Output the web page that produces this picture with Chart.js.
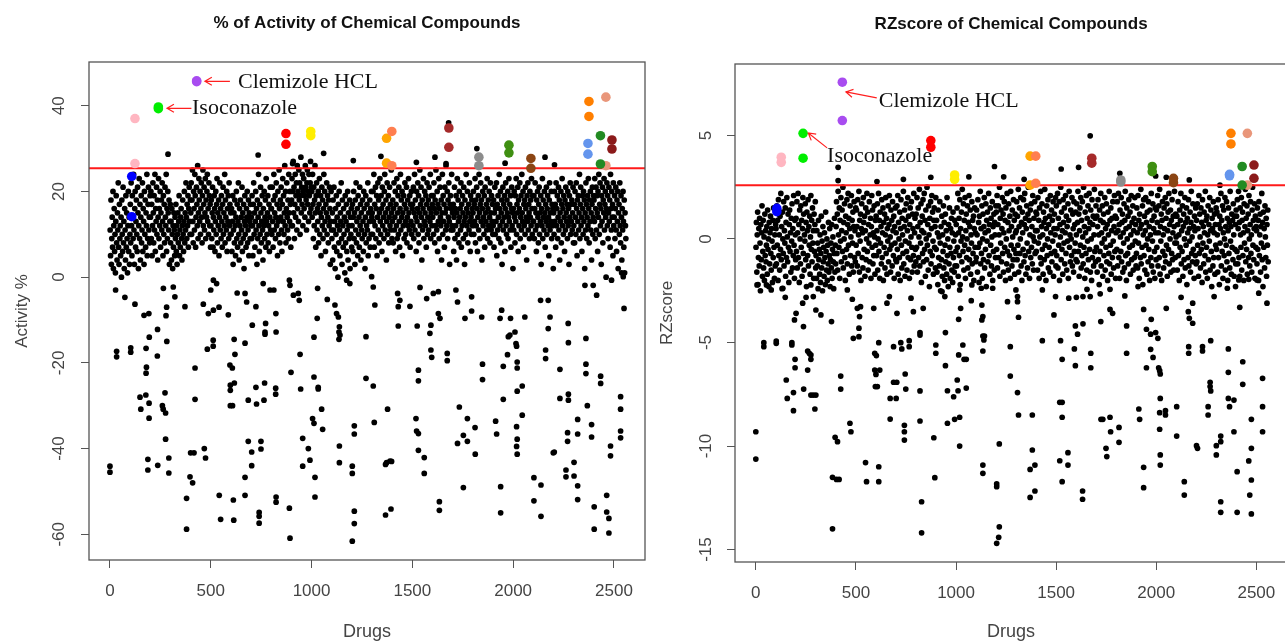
<!DOCTYPE html>
<html>
<head>
<meta charset="utf-8">
<title>% of Activity and RZscore of Chemical Compounds</title>
<script src="https://cdn.jsdelivr.net/npm/chart.js@4.4.1/dist/chart.umd.min.js"></script>
<style>
  html, body { margin: 0; padding: 0; background: #fff; overflow: hidden; }
  body { width: 1285px; height: 643px; position: relative; }
  .panel { position: absolute; top: 0; }
  #left { left: 0; }
  #right { left: 650px; }
</style>
</head>
<body>
<div class="panel" id="left"><canvas id="activityChart" width="650" height="643"></canvas></div>
<div class="panel" id="right"><canvas id="rzChart" width="642" height="643"></canvas></div>
<script>
const SANS = "'Liberation Sans', Arial, sans-serif";
const SERIF = "'Liberation Serif', 'Times New Roman', serif";

const drugTicks = [0, 500, 1000, 1500, 2000, 2500];
const activityTicks = [-60, -40, -20, 0, 20, 40];
const rzTicks = [-15, -10, -5, 0, 5];

const activityCutoff = 25.4;
const rzCutoff = 2.6;

// dense band: one value for every second drug (drug = index * 2 + 1)
const BAND_STEP = 2;
const activityBand = [
  11,5,18,3,9,14,7,20,2,12,16,6,10,1,13,19,8,4,15,11,22,7,3,17,9,12,5,14,0,18,10,6,21,8,13,2,16,11,4,19,7,15,9,1,12,20,6,14,3,10,
  17,8,22,12,5,19,14,9,24,11,3,16,20,7,13,18,10,6,21,15,2,12,23,9,17,4,14,19,8,11,22,6,16,13,3,20,10,18,7,15,12,24,5,9,17,21,11,14,8,19,
  14,20,9,17,5,12,22,15,8,19,11,24,6,16,13,21,10,18,4,14,23,9,16,12,20,7,15,18,11,22,13,5,19,10,17,8,21,14,12,24,6,16,9,20,15,11,18,3,13,17,
  8,13,4,16,10,2,12,7,15,11,5,14,9,17,6,12,3,10,15,8,13,19,5,11,7,14,16,9,4,12,18,10,6,13,20,8,15,11,22,14,9,17,12,19,7,16,21,13,10,18,
  15,22,10,18,25,13,8,20,16,11,24,19,7,14,21,17,12,26,9,15,23,18,13,20,10,16,22,14,8,19,25,12,17,21,11,15,23,9,18,14,20,24,13,16,10,22,19,12,17,7,
  12,18,9,15,21,7,14,11,19,16,6,13,20,10,17,23,8,15,12,18,5,14,22,11,16,9,19,13,7,17,21,10,15,12,24,8,18,14,11,20,6,16,13,19,9,22,12,17,10,15,
  10,16,6,13,19,3,11,15,8,18,12,5,14,20,9,17,7,13,22,10,4,16,12,18,8,14,11,21,6,15,9,17,2,13,19,10,12,7,16,14,20,8,11,18,5,15,13,9,17,12,
  14,9,19,12,5,17,22,10,15,7,13,20,11,16,3,18,9,14,24,12,6,17,10,21,15,8,13,19,11,4,16,12,20,9,14,18,7,23,13,10,15,19,8,12,17,6,14,21,11,16,
  16,10,21,13,7,18,24,11,15,19,9,14,22,12,17,5,20,13,10,25,16,8,18,14,21,11,6,17,23,13,19,10,15,26,12,20,8,16,22,14,11,18,9,24,15,13,20,17,7,12,
  18,23,12,20,27,15,21,9,17,24,14,19,22,11,26,16,20,13,25,18,22,10,19,28,15,21,17,24,12,20,23,16,19,14,26,21,18,11,22,25,17,20,13,24,19,15,22,27,16,21,
  20,14,24,17,9,21,12,18,26,15,7,19,22,11,16,13,20,8,17,23,10,15,19,5,14,21,12,18,9,16,24,11,20,13,6,17,15,22,10,19,14,8,18,12,21,16,3,13,20,11,
  9,15,4,18,11,21,7,13,2,16,10,19,6,14,12,0,17,8,20,11,5,15,13,22,9,3,18,12,7,16,10,14,1,19,8,13,17,6,11,20,4,15,12,9,18,2,14,10,16,7,
  12,17,6,14,20,9,15,3,18,11,22,8,13,16,5,19,10,14,7,21,12,17,4,15,11,9,18,13,6,20,16,10,2,14,19,8,12,17,11,22,5,15,9,13,18,7,16,10,20,14,
  15,10,20,13,24,7,17,12,21,9,16,19,5,14,22,11,18,8,15,23,13,10,19,16,6,21,12,17,14,9,20,24,11,15,18,4,13,22,10,16,19,8,14,21,12,17,11,25,15,9,
  13,18,8,16,22,11,14,20,6,17,12,23,9,15,19,10,21,13,7,16,24,11,18,14,20,5,15,12,19,9,17,22,13,10,16,21,8,14,18,12,23,15,11,19,7,17,13,20,10,16,
  17,12,21,9,15,24,11,18,14,6,20,13,16,22,10,19,8,15,25,12,17,21,14,4,18,11,16,23,9,13,20,15,12,19,7,17,22,10,14,18,11,21,16,13,24,9,15,19,12,17,
  14,19,10,22,16,8,18,12,25,15,11,20,6,17,13,23,9,16,21,14,12,18,4,15,24,10,19,13,17,7,21,15,11,26,16,12,20,9,18,14,22,13,3,17,19,11,16,24,12,15,
  11,17,6,14,21,9,16,12,19,4,15,23,10,18,13,8,20,14,16,11,22,7,17,12,19,15,9,21,13,3,18,14,10,24,16,12,20,8,15,17,11,22,13,6,19,14,10,18,16,12,
  15,20,10,17,13,23,8,18,12,21,16,6,14,19,11,24,15,9,17,22,13,18,4,16,20,12,14,10,19,7,21,15,13,17,11,23,9,16,18,12,20,14,8,22,15,11,19,13,17,10,
  12,18,7,15,21,10,16,13,22,5,17,11,19,14,9,24,16,12,20,8,15,18,3,13,21,11,17,14,19,6,16,22,12,10,18,15,20,9,14,23,13,17,11,19,7,16,21,12,15,2,
  16,11,20,14,8,19,13,23,10,17,15,21,6,18,12,16,22,9,14,19,11,24,15,13,20,7,17,12,18,10,21,16,14,4,19,13,22,11,17,15,9,20,14,18,12,23,16,10,19,13,
  13,19,9,16,22,11,15,6,18,12,20,14,8,17,21,10,15,13,19,3,16,12,23,9,18,14,11,20,15,7,17,13,21,10,16,19,12,14,5,18,22,11,15,13,20,9,17,12,16,2,
  15,10,20,13,17,7,22,12,16,19,9,14,21,11,18,4,15,13,20,8,17,23,12,16,10,19,14,6,18,11,21,15,13,17,9,20,12,16,3,19,14,22,10,17,13,18,11,15,21,8,
  12,17,8,20,14,10,22,16,5,18,13,19,11,15,24,9,17,21,12,14,6,19,16,10,20,13,18,2,15,11,22,17,9,14,19,12,23,16,8,18,13,20,11,15,4,17,21,10,14,19,
  18,13,23,9,16,21,11,19,15,6,20,14,24,10,17,22,12,16,3,19,13,21,8,18,15,23,11,17,20,14,0,16,22,12,19,9,15,21,13,18,7,24,16,11,20,14,17,5,22,12,
  14,19,9,16,21,11,6,18,13,20,2,15,17,10,22,12,8,19,14,4,16,11,20,13,7,18,1,15,12,9
];
const rzBand = [
  -0.4,0.8,-1.6,0.2,1.3,-2.2,-0.9,0.5,-1.3,1.0,-0.2,-2.5,0.7,-1.0,0.3,1.6,-1.8,-0.6,0.9,-1.4,0.1,-2.0,1.2,-0.8,0.4,-1.1,-0.3,0.6,-1.7,1.4,-0.5,0.0,-2.3,0.8,-1.2,0.3,1.1,-0.7,-1.5,0.5,-0.1,-2.1,0.9,-0.9,1.5,-0.4,-1.9,0.2,-1.3,0.7,
  0.5,-1.2,1.6,-0.3,0.9,-2.0,1.9,-0.8,0.2,-1.5,1.1,-0.5,2.2,-1.0,0.6,-2.4,1.3,0.0,-0.7,1.8,-1.3,0.4,-0.2,1.5,-1.8,0.8,-0.9,2.0,0.1,-1.1,1.2,-0.4,-2.1,0.7,1.4,-0.6,0.3,-1.6,1.0,-0.1,1.7,-1.4,0.5,-0.8,2.1,-0.3,-1.9,0.9,0.2,-1.0,
  1.0,-0.6,1.8,-1.4,0.3,2.2,-0.9,0.7,-2.1,1.4,0.0,-1.2,1.6,-0.4,0.9,-1.8,0.5,2.0,-0.7,1.2,-1.5,0.2,-0.1,1.7,-1.0,0.8,-2.3,1.3,0.4,-0.8,1.9,-1.3,0.6,-0.3,1.1,-1.7,0.1,2.1,-0.5,0.9,-1.1,1.5,-0.2,0.4,-1.9,1.2,-0.6,0.7,1.8,-1.4,
  -0.8,-1.9,0.4,-1.3,-0.2,-2.4,0.9,-1.0,-0.5,-1.7,0.2,-2.1,-0.7,1.1,-1.4,-0.1,-2.5,0.6,-1.1,-0.4,-1.8,0.3,-0.9,-2.2,1.3,-0.6,-1.5,0.0,-2.0,-0.3,-1.2,0.8,-1.6,-0.8,0.5,-2.3,-1.0,-0.2,-1.4,0.7,-1.9,-0.5,0.1,-1.1,-2.4,-0.7,1.0,-1.6,-0.3,-1.2,
  0.6,1.8,-0.7,1.2,-1.5,2.3,0.2,-0.4,1.5,-1.9,0.9,-0.1,2.0,-1.1,0.4,1.4,-0.6,2.5,-1.4,0.8,0.0,1.7,-0.9,-2.0,1.1,0.3,-0.5,1.9,-1.2,0.7,2.2,-0.3,1.0,-1.7,0.5,1.6,-0.8,0.1,2.1,-1.3,0.9,-0.2,1.3,-1.6,0.6,1.8,-0.9,0.4,-1.1,1.5,
  -0.3,1.4,0.6,-1.3,1.9,-0.7,0.2,2.3,-1.6,0.9,-0.1,1.2,-2.0,0.5,1.7,-0.9,0.3,-1.4,2.0,0.8,-0.5,1.1,-1.8,0.4,1.5,-1.0,0.0,2.2,-0.6,1.3,-1.5,0.7,-0.2,1.8,-1.1,0.2,1.0,-1.9,0.6,2.1,-0.4,1.4,-1.2,0.3,-0.8,1.6,0.1,-1.7,0.9,-0.3,
  1.1,-0.8,0.4,1.7,-1.5,0.0,2.2,-0.6,0.9,-1.9,1.3,-0.2,0.6,-1.2,1.9,-0.9,0.3,1.5,-2.0,0.8,-0.4,1.2,-1.4,0.2,2.0,-0.7,1.0,-1.7,0.5,-0.1,1.6,-1.1,0.7,2.1,-0.5,0.1,-1.6,1.4,-0.3,0.9,-1.3,1.8,0.4,-0.8,1.1,-1.9,0.6,-0.2,1.5,-1.0,
  0.3,-1.1,1.6,-0.5,2.1,-1.7,0.8,0.0,-0.9,1.3,-2.0,0.5,1.9,-0.3,-1.4,1.0,0.2,-0.7,2.3,-1.2,0.6,1.4,-1.8,-0.1,0.9,1.7,-0.6,-1.5,0.4,2.0,-0.9,1.1,-0.2,-1.9,0.7,1.5,-1.0,0.1,1.8,-0.4,-1.6,1.2,0.5,-0.8,2.2,-1.3,0.3,1.0,-0.5,-1.1,
  1.2,-0.4,2.0,-1.6,0.6,1.5,-0.9,0.1,2.4,-1.3,0.8,-0.2,1.7,-2.1,0.4,1.1,-0.7,1.9,-1.1,0.3,2.2,-0.5,0.9,-1.8,1.4,0.0,-1.0,2.5,-0.3,0.7,-1.5,1.6,0.2,-2.3,1.0,-0.6,1.8,-1.2,0.5,2.1,-0.8,1.3,-0.1,-1.7,0.9,1.5,-0.4,0.6,-1.4,2.0,
  -0.5,0.9,-1.6,0.3,-2.2,1.4,-0.9,0.1,-1.3,1.8,-0.2,-2.5,0.6,-1.0,1.1,-1.8,0.2,-0.6,1.6,-1.4,0.8,-2.0,-0.3,1.2,-1.1,0.4,-1.7,2.0,-0.8,0.0,-2.3,0.7,-1.2,1.5,-0.4,-1.9,0.5,-0.7,1.0,-1.5,0.3,-2.1,1.3,-0.9,-0.1,-1.6,0.9,-1.3,0.2,-0.6,
  0.7,-1.3,1.5,-0.4,2.2,-1.8,0.3,1.0,-0.8,1.9,-2.2,0.5,-0.1,1.3,-1.1,2.4,0.1,-0.6,1.7,-1.5,0.9,-0.3,2.0,-1.9,0.4,1.2,-0.9,0.0,1.6,-1.4,0.8,-0.5,2.1,-1.0,0.6,1.4,-1.7,0.2,-0.2,1.8,-1.2,0.9,-0.7,1.1,-2.0,0.5,1.5,-0.4,0.3,-1.1,
  -0.9,1.4,0.2,-1.6,1.9,-0.4,0.8,-2.1,1.1,-0.2,2.3,-1.2,0.5,-0.7,1.6,-1.9,0.0,1.2,-1.0,0.6,2.0,-1.4,0.3,-0.5,1.7,-2.3,0.9,-0.1,1.3,-1.1,0.4,2.2,-0.8,0.7,-1.7,1.5,-0.3,1.0,-1.3,0.1,1.8,-2.0,0.6,-0.6,1.2,-1.5,0.8,0.2,-0.9,1.6,
  1.3,-0.5,2.1,-1.4,0.7,1.6,-0.9,0.2,2.5,-1.8,1.0,-0.2,1.4,-1.1,0.5,2.0,-0.7,1.2,-1.6,0.3,1.8,-0.4,0.9,-2.0,1.5,0.0,-1.2,2.2,-0.6,0.8,-1.5,1.7,0.4,-0.8,1.1,-1.9,2.3,-0.3,0.6,-1.3,1.4,0.1,-1.0,1.9,-0.5,0.9,-1.7,1.2,0.3,-0.7,
  0.4,1.8,-1.0,1.1,-0.3,2.4,-1.6,0.6,1.5,-0.7,0.0,2.0,-1.3,0.8,-2.0,1.3,0.3,-0.5,1.9,-1.1,0.7,2.2,-0.8,1.0,-1.7,0.5,1.6,-0.2,-1.4,1.2,2.5,-0.6,0.9,-1.9,0.2,1.4,-0.9,1.7,-0.4,0.6,-1.2,2.1,0.1,-1.5,1.0,-0.1,1.8,-0.7,0.4,1.3,
  -0.6,1.2,0.4,-1.5,2.0,-0.2,0.9,-1.9,1.5,0.1,-0.9,2.3,-1.2,0.6,1.7,-0.5,0.2,-1.7,1.3,0.8,-1.0,2.4,-0.3,1.0,-2.0,0.5,1.6,-0.8,0.0,1.9,-1.4,0.7,-0.4,1.1,-1.6,2.1,0.3,-0.7,1.4,-1.1,0.9,-0.1,1.8,-1.8,0.5,1.2,-0.6,0.2,2.0,-1.3,
  1.6,-0.8,0.5,2.2,-1.4,1.0,-0.3,1.8,-2.0,0.7,0.1,2.5,-1.0,1.3,-0.5,0.4,-1.7,1.9,0.8,-0.2,1.5,-1.2,0.3,2.1,-0.7,1.1,-1.5,0.6,-0.1,1.7,-1.9,0.9,2.3,-0.4,0.2,-1.1,1.4,0.0,-0.8,2.0,-1.3,1.2,0.5,-1.6,1.8,-0.6,0.7,-0.2,1.3,-1.0,
  0.2,1.7,-1.1,0.8,2.3,-0.6,1.2,-1.8,0.4,1.5,-0.3,2.0,-1.4,0.9,-0.8,1.8,0.1,-1.2,2.5,-0.4,0.6,-1.9,1.3,0.3,-0.7,2.1,-1.5,1.0,-0.1,1.6,-1.0,0.5,2.2,-0.5,0.8,-1.6,1.4,0.0,-2.0,1.9,-0.9,0.7,1.1,-1.3,0.2,2.4,-0.6,1.0,-1.1,1.6,
  -0.4,1.1,-1.6,0.6,1.9,-1.0,0.2,-2.2,1.4,-0.6,0.9,2.2,-1.3,0.3,-0.2,1.6,-1.8,0.8,1.2,-0.8,0.0,2.0,-1.5,0.5,-0.4,1.7,-1.1,0.7,-2.0,1.3,0.2,-0.7,2.3,-1.2,0.9,-0.3,1.5,-1.7,0.4,1.0,-0.9,1.8,-0.1,-1.4,0.6,2.1,-0.6,1.1,-1.9,0.3,
  1.0,-0.5,1.8,-1.3,0.4,2.2,-0.9,0.7,-1.9,1.4,0.1,-0.6,2.0,-1.1,0.8,1.2,-1.6,0.3,-0.2,1.7,-1.4,0.9,2.3,-0.8,0.5,-2.0,1.5,0.0,-0.7,1.1,-1.2,1.9,0.6,-0.4,1.3,-1.7,0.2,2.1,-1.0,0.8,-0.3,1.6,-1.5,0.4,1.0,-0.9,2.0,-0.1,0.7,-1.3,
  -0.7,1.5,0.3,-1.4,2.1,-0.2,0.9,-1.9,1.2,0.5,-0.9,2.4,-1.2,0.7,-0.4,1.6,-2.2,0.2,1.9,-0.8,1.1,-1.5,0.4,2.0,-0.3,0.8,-1.7,1.3,0.0,-1.1,1.8,-0.5,0.6,-2.0,1.4,0.2,-0.9,2.2,-1.3,0.9,-0.1,1.7,-1.6,0.5,1.1,-0.6,-1.9,1.5,0.3,-1.0,
  1.4,-0.4,0.8,2.1,-1.3,0.3,1.6,-0.9,2.4,-1.7,0.6,-0.1,1.2,-2.0,0.9,1.8,-0.6,0.2,-1.4,1.5,0.5,-0.8,2.0,-1.1,1.0,-0.3,1.7,-1.8,0.4,1.3,-0.5,2.2,-1.2,0.7,0.0,1.4,-1.6,0.9,-0.7,1.9,-1.0,0.3,1.1,-1.5,0.6,2.3,-0.2,-0.9,1.2,0.1,
  -0.2,1.1,-1.5,0.7,1.8,-0.8,0.2,-2.0,1.4,-0.4,0.9,2.2,-1.2,0.4,-0.6,1.6,-1.8,0.6,1.2,-1.0,0.0,2.0,-1.4,0.8,-0.3,1.5,-2.2,1.0,0.3,-0.9,1.9,-1.3,0.5,-0.1,1.3,-1.6,0.8,2.3,-0.7,0.1,-1.1,1.7,-0.5,0.6,-1.9,1.1,0.4,-0.8,1.5,-1.2,
  0.9,-1.1,1.7,-0.3,0.5,-1.8,2.1,-0.7,1.2,0.1,-1.4,1.5,-0.5,0.8,-2.1,1.9,-0.2,0.6,-1.2,1.3,0.3,-0.8,2.3,-1.6,0.9,-0.4,1.1,-1.9,0.2,1.6,-1.0,0.7,-0.1,2.0,-1.5,0.4,1.4,-0.6,-2.3,1.0,0.5,-1.3,1.8,-0.9,0.3,1.2,-1.7,0.7,-0.3,1.5,
  -0.5,1.3,0.2,-1.6,1.9,-0.9,0.7,-2.2,1.1,-0.2,0.5,2.2,-1.3,0.9,-0.6,1.6,-1.9,0.3,1.4,-0.8,0.0,2.0,-1.5,0.6,-0.3,1.8,-1.1,1.0,-2.0,0.4,1.5,-0.7,0.8,-1.4,2.3,-0.1,0.6,-1.7,1.2,-0.4,0.9,-1.0,1.7,0.2,-1.8,1.1,-0.5,0.7,-1.2,1.4,
  1.1,-0.6,1.9,-1.2,0.5,2.3,-0.9,0.8,-1.8,1.5,0.2,-0.4,2.0,-1.5,0.9,1.3,-0.8,0.3,-2.0,1.7,-0.2,0.6,2.4,-1.1,1.0,-0.5,1.6,-1.7,0.4,1.2,-0.9,2.1,0.0,-1.3,0.7,1.8,-0.7,0.2,-1.6,1.4,2.5,-0.3,0.9,-1.0,0.5,1.7,-1.9,1.1,-0.4,0.6,
  0.4,-1.2,1.5,-0.5,0.9,-2.0,1.8,-0.8,0.2,1.2,-1.6,0.6,-0.2,2.2,-1.0,0.8,-2.3,1.3,-0.4,0.5,-1.4,1.6,0.1,-0.9,1.0,-1.8,0.7,-0.3,1.4,-1.1
];

// scattered compounds away from the band: [drug, value]
const activityScatter = [
  [288,28.7],[735,28.5],[1060,28.9],[1344,28.2],[1612,28],[1820,30],[2158,28],[1680,36],[1667,26.5],[1207,27.2],[906,26.5],[1520,26.8],[2205,26.2],[1960,26.6],
  [28,-3],[74,-4.7],[124,-6.3],[169,-8.9],[193,-8.5],[278,-9],[281,-7],[372,-6.9],[322,-4.6],[314,-2.3],[265,-2.6],[463,-6.3],[488,-8.5],[513,-7.7],[541,-7],[587,-8.8],
  [529,-1.5],[513,-0.7],[500,-3],[631,-3.7],[670,-3.8],[678,-5.8],[724,-6.9],[706,-11.2],[760,-1.5],[794,-3],[813,-3],[772,-10.8],[823,-8.5],[890,-0.7],[893,-1.9],
  [910,-4.2],[934,-3.8],[939,-5.4],[1028,-9.6],[1030,-2.6],[1078,-5.2],
  [0,-44.1],[0,-45.5],[33,-17.3],[33,-18.6],[103,-16.5],[103,-17.5],[149,-28],[153,-30.8],[178,-27.5],[179,-16.6],[195,-14],[181,-21],[179,-22.4],[194,-29.4],
  [194,-32.9],[188,-42.5],[188,-45],[235,-18.4],[237,-43.9],[236,-12.2],[260,-30],[264,-30.8],[276,-31.7],[273,-27],[282,-15],[276,-37.8],[292,-42.2],[292,-45.7],
  [380,-51.6],[380,-58.8],[397,-46.6],[410,-48],[400,-41],[417,-41],[422,-21.2],[422,-28.5],[468,-40],[474,-42.2],[483,-16.8],[512,-14.7],[512,-16.1],[542,-50.9],
  [549,-56.5],[595,-20.5],[607,-21.2],[597,-25.2],[597,-26.4],[597,-30],[608,-30],[612,-52],[614,-56.7],[616,-14.5],[617,-24.7],[620,-18],[670,-15.4],[670,-50.9],
  [670,-46.7],[686,-28.7],[686,-38.3],[703,-40.8],[703,-44],[724,-25.7],[727,-29.6],[740,-54.9],[740,-55.8],[740,-57.4],[749,-38.3],[749,-40.1],[764,-28.7],
  [767,-24.7],[769,-12.8],[769,-13.3],[822,-25.9],[822,-27.3],[824,-51.3],[824,-52.5],[824,-12.8],[890,-53.9],[893,-60.9],[898,-22.2],[943,-18],[946,-26.1],
  [956,-37.6],[956,-44.1],[984,-40],[992,-42.7],[1012,-14],[1012,-23.3],[1012,-34.1],[1005,-33],[1017,-46.7],[1017,-51.3],[1033,-25.7],[1033,-26.1],[1050,-30.8],[1055,-35.5],
  [1116,-6.5],[1124,-8.5],[1133,-9.3],[1138,-11.6],[1190,-1.5],[1174,-0.7],[1298,0.1],[1306,-2.3],[1314,-6.5],[1427,-3.8],[1438,-5.4],[1430,-6.9],[1430,-11.4],
  [1488,-6.8],[1524,-11.4],[1538,-2.4],[1571,-5],[1604,-3.8],[1629,-3.4],[1592,-11.2],[1587,-13.1],[1629,-8.5],[1637,-9.6],[1716,-3],[1724,-5.8],[1794,-4.6],
  [1794,-7.9],[1761,-9.6],[1844,-9.3],[1935,-9.6],[1943,-7.7],[1987,-9.6],[2058,-9.3],[2136,-5.4],[2174,-5.4],[2183,-9.3],[2174,-12],[2273,-10.8],[2356,-1.9],
  [2397,-1.9],[2414,-4.2],[2488,-0.7],[2538,1],[2546,0.1],[2550,-7.3],
  [1136,-12.8],[1136,-14.5],[1141,-13.5],[1138,-39.4],[1138,-43.3],[1202,-44.1],[1202,-45.8],[1202,-61.6],[1212,-34.7],[1212,-36.6],[1212,-54.6],[1212,-57.5],
  [1270,-13.9],[1270,-23.6],[1306,-25.4],[1311,-33.9],[1367,-43.7],[1372,-43.3],[1389,-42.9],[1397,-43],[1377,-30.8],[1367,-55.5],[1394,-54.1],[1518,-33],
  [1521,-35.9],[1530,-36.5],[1530,-21.7],[1530,-24.2],[1530,-40.4],[1559,-42.1],[1559,-45.8],[1592,-17],[1596,-18.7],[1634,-52.4],[1634,-54.4],[1673,-17.8],
  [1673,-19.5],[1724,-38.8],[1733,-30.3],[1753,-36.9],[1753,-49.1],[1773,-33],[1773,-38.3],[1811,-35.1],[1812,-41.3],[1848,-20.3],[1848,-23.9],[1913,-33.6],
  [1918,-36.6],[1938,-48.9],[1938,-55],[1951,-20.8],[1951,-28.5],[1972,-18.1],[1976,-13.9],[1984,-13.5],[2009,-12.8],[2014,-15.5],[2017,-16.1],[2020,-19.8],
  [2020,-21.2],[2020,-26.6],[2017,-34.9],[2020,-37.8],[2017,-39.5],[2020,-41.3],[2045,-25.4],[2045,-32.2],[2103,-46.8],[2103,-52.2],[2138,-48.5],[2138,-55.8],
  [2161,-17],[2161,-19],[2199,-41],[2204,-40.8],[2232,-21.5],[2232,-28.3],[2262,-45],[2262,-46.6],[2270,-36.3],[2270,-38.3],[2274,-15.3],[2274,-27.3],[2274,-28.7],
  [2302,-43.2],[2302,-46.4],[2320,-33.2],[2320,-36.6],[2320,-48.7],[2320,-51.9],[2361,-14.3],[2361,-20.3],[2361,-22.5],[2368,-30],[2389,-34.4],[2389,-37.3],
  [2402,-53.6],[2402,-58.8],[2434,-23.1],[2434,-24.8],[2464,-50.9],[2464,-54.8],[2475,-56.3],[2475,-59.7],[2483,-39.4],[2483,-41.7],[2533,-27.9],[2533,-30.8],
  [2533,-35.9],[2533,-37.5]
];
const rzScatter = [
  [411,3.46],[411,2.82],[874,2.98],[737,2.88],[605,2.77],[1064,3.0],[1192,3.5],[1525,3.38],[1612,3.46],[1818,3.17],[1997,3.04],[2050,2.98],[2165,2.85],
  [2318,2.6],[1340,2.88],[1238,3.0],[1670,4.98],
  [6,-2.22],[53,-2.22],[77,-2.46],[135,-2.38],[147,-2.82],[201,-3.59],[193,-3.91],[238,-4.23],[234,-3.1],[251,-2.82],[275,-2.22],[287,-2.78],[300,-3.43],
  [325,-3.67],[378,-3.99],[457,-2.46],[482,-2.91],[507,-3.35],[518,-3.75],[523,-3.27],[515,-4.31],[589,-3.35],[655,-3.1],[667,-2.78],[705,-3.59],[775,-2.86],
  [787,-3.51],[836,-3.35],[930,-2.54],[944,-2.78],[1018,-2.46],[1023,-3.35],[1013,-3.88],
  [1076,-2.98],[1126,-2.38],[1079,-2.22],[1183,-2.38],[1129,-3.19],[1134,-3.75],[1129,-3.91],[1257,-3.03],[1299,-2.46],[1307,-2.78],[1312,-3.78],[1307,-3.03],
  [1431,-2.46],[1489,-3.67],[1497,-2.78],[1563,-2.86],[1601,-2.82],[1634,-2.78],[1670,-2.78],[1654,-2.43],[1596,-4.2],[1634,-4.1],[1720,-2.65],[1769,-2.43],
  [1723,-3.99],[1769,-3.4],[1782,-3.59],[1843,-2.75],[1852,-4.2],[1909,-2.3],[1937,-3.4],[1951,-4.36],[1975,-3.88],[2050,-3.35],[2124,-2.82],[2182,-3.1],
  [2165,-3.83],[2160,-3.51],[2182,-4.07],[2289,-2.78],[2355,-2.38],[2396,-2.3],[2412,-1.98],[2417,-3.3],[2462,-1.95],[2503,-1.98],[2553,-3.1],[2512,-2.62],
  [0,-9.31],[0,-10.63],[40,-5.01],[40,-5.2],[102,-4.93],[102,-5.04],[180,-5.01],[180,-5.12],[196,-5.81],[196,-6.22],[152,-6.81],[157,-7.7],[188,-7.42],
  [188,-8.29],[239,-7.25],[259,-5.41],[267,-5.52],[275,-5.6],[275,-5.81],[259,-6.33],[275,-7.54],[287,-7.54],[300,-7.54],[295,-8.21],[396,-9.58],[408,-9.79],
  [383,-11.51],[403,-11.61],[416,-11.61],[383,-14.0],[424,-6.62],[424,-7.25],[470,-8.9],[475,-9.31],[487,-4.8],[515,-4.72],[548,-10.8],[553,-11.72],
  [594,-5.52],[602,-5.63],[594,-6.33],[600,-6.54],[597,-7.13],[607,-7.13],[614,-5.01],[619,-6.33],[614,-11.0],[614,-11.72],[671,-7.7],[701,-7.7],[671,-8.7],
  [688,-5.2],[688,-6.92],[704,-6.92],[724,-5.01],[729,-5.31],[746,-6.52],[749,-7.25],[742,-9.0],[742,-9.31],[742,-9.71],[766,-4.91],[766,-5.2],[820,-4.52],
  [820,-4.64],[820,-7.34],[820,-8.79],[828,-12.69],[828,-14.19],[889,-9.6],[894,-11.53],[899,-5.12],[899,-5.52],[947,-4.52],[947,-6.12],[957,-7.33],[957,-8.9],
  [988,-7.62],[993,-8.71],[1006,-6.81],[1010,-7.33],[1018,-8.61],[1018,-10.0],[1013,-5.6],[1034,-5.12],[1040,-5.81],[1051,-5.81],[1051,-7.2],
  [1134,-4.69],[1142,-4.69],[1139,-4.88],[1134,-5.41],[1134,-10.92],[1134,-11.32],[1203,-11.83],[1203,-11.96],[1216,-9.9],[1216,-13.9],[1213,-14.41],
  [1203,-14.7],[1271,-5.2],[1271,-6.62],[1307,-7.42],[1312,-8.5],[1381,-8.5],[1381,-10.19],[1370,-11.13],[1394,-10.92],[1370,-12.48],[1394,-12.17],[1431,-4.91],
  [1522,-4.91],[1530,-5.81],[1518,-7.89],[1530,-7.89],[1530,-8.61],[1518,-10.71],[1530,-11.72],[1559,-10.32],[1559,-10.92],[1591,-5.31],[1596,-6.12],
  [1607,-4.6],[1632,-12.17],[1632,-12.57],[1673,-5.52],[1673,-6.22],[1724,-8.71],[1733,-8.71],[1749,-10.11],[1753,-10.51],[1769,-8.61],[1772,-9.31],
  [1814,-9.1],[1814,-9.82],[1852,-5.52],[1913,-8.21],[1917,-8.71],[1937,-11.03],[1937,-12.01],[1951,-6.22],[1972,-5.33],[1984,-5.72],[1972,-4.6],[1997,-4.52],
  [2008,-4.8],[2012,-6.22],[2017,-6.36],[2020,-6.52],[2020,-7.7],[2017,-8.39],[2017,-9.19],[2020,-10.43],[2020,-10.92],[2046,-8.29],[2046,-8.5],[2102,-8.1],
  [2102,-9.52],[2140,-11.72],[2140,-12.37],[2162,-5.2],[2162,-5.52],[2201,-9.98],[2206,-10.11],[2231,-5.2],[2231,-5.41],[2272,-4.91],[2259,-8.1],[2259,-8.5],
  [2269,-6.92],[2269,-7.13],[2272,-7.34],[2300,-10.43],[2300,-9.98],[2322,-9.52],[2322,-9.79],[2322,-12.69],[2322,-13.2],[2360,-5.31],[2360,-6.44],
  [2360,-7.7],[2366,-8.1],[2388,-7.78],[2388,-9.31],[2404,-11.24],[2404,-13.2],[2432,-5.93],[2432,-7.02],[2462,-10.72],[2467,-12.37],[2475,-8.71],
  [2475,-10.11],[2475,-11.64],[2475,-13.28],[2531,-6.73],[2531,-8.1],[2531,-9.31]
];

// hits above the cut-off, two replicates each
const hitDrugsActivity = [124, 108, 240, 430, 873, 996, 1372, 1398, 1681, 1830, 1979, 2088, 2376, 2371, 2460, 2433, 2490];
const hitActivityRep1 = [37, 23.5, 39.7, 45.8, 33.5, 34, 32.4, 34, 34.8, 28, 30.8, 27.7, 41, 31.2, 42, 33, 32];
const hitActivityRep2 = [26.5, 14.1, 39.3, 45.6, 31, 33, 26.6, 26, 30.3, 26, 29, 25.4, 37.5, 28.7, 26, 26.4, 29.9];
const hitDrugsRz = [127, 105, 236, 432, 874, 993, 1370, 1398, 1678, 1823, 1980, 2086, 2373, 2366, 2455, 2429, 2488];
const hitRzRep1 = [3.95, 1.48, 5.1, 7.57, 4.75, 3.09, 4.0, 4.0, 3.9, 2.85, 3.5, 2.93, 5.1, 3.12, 5.1, 3.5, 3.57];
const hitRzRep2 = [3.7, 1.32, 3.9, 5.72, 4.43, 2.88, 2.6, 2.69, 3.66, 2.75, 3.25, 2.72, 4.59, 3.05, 2.6, 2.6, 2.93];

const hitColors = ['#FFB6C1', '#0000FF', '#00EE00', '#A84CF0', '#FF0000', '#FFEE00', '#FFA500', '#FF7F50', '#A52A2A',
  '#8C8C8C', '#3F8F12', '#8B4513', '#FF7F00', '#6495ED', '#E9967A', '#228B22', '#8B1A1A'];

function bandPoints(values) {
  return values.map((v, i) => ({ x: i * BAND_STEP + 1, y: v }));
}
function pairPoints(pairs) {
  return pairs.map(p => ({ x: p[0], y: p[1] }));
}
function hitPoints(drugs, rep1, rep2) {
  const pts = [];
  drugs.forEach((d, i) => { pts.push({ x: d, y: rep1[i] }, { x: d, y: rep2[i] }); });
  return pts;
}
const hitPointColors = hitColors.flatMap(c => [c, c]);

function arrow(ctx, x1, y1, x2, y2) {
  const a = Math.atan2(y2 - y1, x2 - x1);
  const len = 8;
  ctx.beginPath();
  ctx.moveTo(x1, y1);
  ctx.lineTo(x2, y2);
  ctx.moveTo(x2 - len * Math.cos(a - Math.PI / 6), y2 - len * Math.sin(a - Math.PI / 6));
  ctx.lineTo(x2, y2);
  ctx.lineTo(x2 - len * Math.cos(a + Math.PI / 6), y2 - len * Math.sin(a + Math.PI / 6));
  ctx.stroke();
}

// box, cut-off line, title and the two labelled compounds
const panelDecor = {
  id: 'panelDecor',
  afterDatasetDraw(chart, args, opts) {
    if (args.index !== 1) return;
    const { ctx, chartArea } = chart;
    const y = chart.scales.y.getPixelForValue(opts.cutoff);
    ctx.save();
    ctx.strokeStyle = '#FF1A1A';
    ctx.lineWidth = 2;
    ctx.beginPath();
    ctx.moveTo(chartArea.left, y);
    ctx.lineTo(chartArea.right, y);
    ctx.stroke();
    ctx.restore();
  },
  afterDraw(chart, args, opts) {
    const { ctx, chartArea } = chart;
    const xs = chart.scales.x, ys = chart.scales.y;
    ctx.save();
    ctx.strokeStyle = '#555';
    ctx.lineWidth = 1.3;
    ctx.strokeRect(chartArea.left, chartArea.top, chartArea.right - chartArea.left, chartArea.bottom - chartArea.top);

    ctx.fillStyle = '#111';
    ctx.font = 'bold 17px ' + SANS;
    ctx.textAlign = 'center';
    ctx.textBaseline = 'middle';
    ctx.fillText(opts.title, (chartArea.left + chartArea.right) / 2, opts.titleY);

    ctx.font = '22px ' + SERIF;
    ctx.textAlign = 'left';
    ctx.strokeStyle = '#FF2020';
    ctx.lineWidth = 1.2;
    opts.notes.forEach(n => {
      ctx.fillText(n.text, xs.getPixelForValue(n.at[0]), ys.getPixelForValue(n.at[1]));
      arrow(ctx, xs.getPixelForValue(n.from[0]), ys.getPixelForValue(n.from[1]),
        xs.getPixelForValue(n.to[0]), ys.getPixelForValue(n.to[1]));
    });
    ctx.restore();
  }
};

function makePanel(canvasId, cfg) {
  const tickFont = { family: SANS, size: 17 };
  return new Chart(document.getElementById(canvasId), {
    type: 'scatter',
    data: {
      datasets: [
        { data: cfg.hits, backgroundColor: hitPointColors, borderWidth: 0, pointRadius: 4.8 },
        { data: cfg.points, backgroundColor: '#000', borderWidth: 0, pointRadius: 2.85 }
      ]
    },
    options: {
      responsive: false,
      animation: false,
      events: [],
      layout: { padding: cfg.padding },
      plugins: {
        legend: { display: false },
        tooltip: { enabled: false },
        panelDecor: { title: cfg.title, titleY: cfg.titleY, cutoff: cfg.cutoff, notes: cfg.notes }
      },
      scales: {
        x: {
          type: 'linear',
          min: -104,
          max: 2654,
          afterBuildTicks: s => { s.ticks = drugTicks.map(v => ({ value: v })); },
          afterFit: s => { s.height = cfg.xAxisHeight; },
          border: { display: false },
          grid: { drawOnChartArea: false, drawTicks: true, tickLength: 8, color: '#555' },
          ticks: { font: tickFont, color: '#444', padding: 13, maxRotation: 0, autoSkip: false, callback: v => String(v) },
          title: { display: true, text: 'Drugs', color: '#444', font: { family: SANS, size: 18 }, padding: { top: 0, bottom: 0 } }
        },
        y: {
          type: 'linear',
          min: cfg.yMin,
          max: cfg.yMax,
          afterBuildTicks: s => { s.ticks = cfg.yTicks.map(v => ({ value: v })); },
          afterFit: s => { s.width = cfg.yAxisWidth; },
          border: { display: false },
          grid: { drawOnChartArea: false, drawTicks: true, tickLength: 8, color: '#555' },
          ticks: { font: tickFont, color: '#444', padding: cfg.yTickPad, minRotation: 90, maxRotation: 90, crossAlign: 'center', autoSkip: false, callback: v => String(v) },
          title: { display: true, text: cfg.yTitle, color: '#444', font: { family: SANS, size: 17 }, padding: { top: cfg.yTitlePad, bottom: 0 } }
        }
      }
    },
    plugins: [panelDecor]
  });
}

makePanel('activityChart', {
  title: '% of Activity of Chemical Compounds',
  titleY: 23,
  yTitle: 'Activity %',
  yTicks: activityTicks,
  yMin: -66,
  yMax: 50.2,
  cutoff: activityCutoff,
  padding: { top: 62, right: 5, bottom: 0, left: 0 },
  xAxisHeight: 83,
  yAxisWidth: 89,
  yTickPad: 9,
  yTitlePad: 12,
  points: bandPoints(activityBand).concat(pairPoints(activityScatter)),
  hits: hitPoints(hitDrugsActivity, hitActivityRep1, hitActivityRep2),
  notes: [
    { text: 'Clemizole HCL', at: [635, 45.5], from: [595, 45.7], to: [471, 45.7] },
    { text: 'Isoconazole', at: [407, 39.4], from: [404, 39.4], to: [283, 39.4] }
  ]
});

makePanel('rzChart', {
  title: 'RZscore of Chemical Compounds',
  titleY: 24,
  yTitle: 'RZscore',
  yTicks: rzTicks,
  yMin: -15.6,
  yMax: 8.45,
  cutoff: rzCutoff,
  padding: { top: 64, right: 0, bottom: 0, left: 0 },
  xAxisHeight: 81,
  yAxisWidth: 85,
  yTickPad: 8,
  yTitlePad: 7,
  points: bandPoints(rzBand).concat(pairPoints(rzScatter)),
  hits: hitPoints(hitDrugsRz, hitRzRep1, hitRzRep2),
  notes: [
    { text: 'Clemizole HCL', at: [614, 6.67], from: [604, 6.81], to: [450, 7.1] },
    { text: 'Isoconazole', at: [356, 4.0], from: [356, 4.4], to: [262, 5.12] }
  ]
});
</script>
</body>
</html>
